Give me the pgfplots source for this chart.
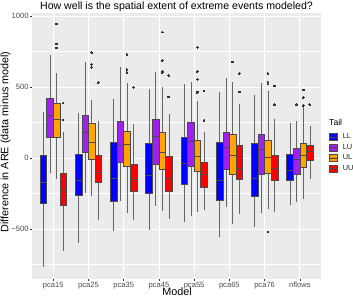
\documentclass[border=0pt]{standalone}
\usepackage{fontspec}
\setmainfont{Liberation Sans}
\usepackage{pgfplots}
\pgfplotsset{compat=1.18}
\definecolor{llc}{HTML}{0000FF}
\definecolor{luc}{HTML}{A020F0}
\definecolor{ulc}{HTML}{FFA500}
\definecolor{uuc}{HTML}{FF0000}
\definecolor{panelbg}{HTML}{EBEBEB}
\definecolor{boxborder}{HTML}{4A4A4A}
\definecolor{whiskcol}{HTML}{666666}
\definecolor{ticklab}{HTML}{4D4D4D}
\definecolor{tickcol}{HTML}{333333}
% #1 centre, #2 colour, #3 lw, #4 lq, #5 med, #6 uq, #7 uw
\newcommand{\bx}[7]{%
  \pgfmathsetmacro{\xa}{#1-0.09375}%
  \pgfmathsetmacro{\xb}{#1+0.09375}%
  \edef\doplots{%
  \noexpand\addplot[whiskcol, line width=0.5pt, forget plot] coordinates {(#1,#3) (#1,#4)};
  \noexpand\addplot[whiskcol, line width=0.5pt, forget plot] coordinates {(#1,#6) (#1,#7)};
  \noexpand\addplot[fill=#2, draw=boxborder, line width=0.5pt, forget plot]
     coordinates {(\xa,#4) (\xb,#4) (\xb,#6) (\xa,#6) (\xa,#4)} -- cycle;
  \noexpand\addplot[boxborder, line width=0.95pt, forget plot] coordinates {(\xa,#5) (\xb,#5)};
  }\doplots}
\begin{document}
\begin{tikzpicture}
\path[use as bounding box] (0pt,0pt) rectangle (353pt,299pt);
\begin{axis}[
  at={(32pt,20pt)}, anchor=south west,
  scale only axis, width=289pt, height=266pt,
  xmin=0.4, xmax=8.6, ymin=-852, ymax=1021,
  xtick={1,2,3,4,5,6,7,8},
  xticklabels={pca15,pca25,pca35,pca45,pca55,pca65,pca76,nflows},
  ytick={-500,0,500,1000},
  yticklabels={−500,0,500,1000},
  minor ytick={-750,-250,250,750},
  grid=both,
  major grid style={white, line width=0.75pt},
  minor grid style={white, line width=0.4pt},
  axis background/.style={fill=panelbg},
  axis line style={draw=none},
  tick align=outside,
  major tick length=2pt, minor tick length=0pt,
  tick style={tickcol, line width=0.4pt},
  xtick pos=left, ytick pos=left,
  ticklabel style={font=\fontsize{7.6}{8}\selectfont, text=ticklab},
  xticklabel style={inner sep=1pt},
  yticklabel style={inner sep=1.2pt},
  legend style={at={(axis description cs:1.0277,0.549)}, anchor=north west,
    draw=none, fill=none, inner sep=0pt, row sep=3.0pt,
    font=\fontsize{7.4}{8}\selectfont,
    nodes={inner sep=0pt, text=black!85}},
  legend cell align=left,
  legend image code/.code={%
    \filldraw[#1, draw=boxborder, line width=0.5pt] (0pt,-3.5pt) rectangle (7.2pt,3.5pt);
    \draw[boxborder, line width=0.75pt] (0pt,0pt)--(7.2pt,0pt);
    \path (13pt,0pt);},
]
% pca15
\bx{0.71875}{llc}{-768}{-317}{-169}{20}{324}
\bx{0.90625}{luc}{-106}{148}{298}{422}{725}
\bx{1.09375}{ulc}{-148}{148}{268}{387}{599}
\bx{1.28125}{uuc}{-655}{-331}{-232}{-106}{183}
% pca25
\bx{1.71875}{llc}{-599}{-261}{-155}{28}{317}
\bx{1.90625}{luc}{-244}{42}{183}{303}{678}
\bx{2.09375}{ulc}{-268}{-7}{108}{242}{408}
\bx{2.28125}{uuc}{-437}{-171}{-101}{19}{258}
% pca35
\bx{2.71875}{llc}{-512}{-303}{-143}{110}{413}
\bx{2.90625}{luc}{-303}{-28}{89}{256}{643}
\bx{3.09375}{ulc}{-385}{-56}{96}{190}{526}
\bx{3.28125}{uuc}{-437}{-237}{-150}{-42}{242}
% pca45
\bx{3.71875}{llc}{-507}{-249}{-124}{101}{486}
\bx{3.90625}{luc}{-338}{-47}{150}{275}{608}
\bx{4.09375}{ulc}{-371}{-77}{40}{181}{502}
\bx{4.28125}{uuc}{-427}{-237}{-141}{9}{308}
% pca55
\bx{4.71875}{llc}{-448}{-188}{-38}{148}{519}
\bx{4.90625}{luc}{-408}{-59}{113}{253}{535}
\bx{5.09375}{ulc}{-380}{-96}{12}{122}{399}
\bx{5.28125}{uuc}{-366}{-206}{-117}{-31}{181}
% pca65
\bx{5.71875}{llc}{-559}{-296}{-157}{113}{462}
\bx{5.90625}{luc}{-343}{-82}{75}{181}{566}
\bx{6.09375}{ulc}{-467}{-113}{16}{169}{538}
\bx{6.28125}{uuc}{-397}{-150}{-75}{89}{380}
% pca76
\bx{6.71875}{llc}{-488}{-272}{-143}{106}{441}
\bx{6.90625}{luc}{-385}{-115}{61}{167}{526}
\bx{7.09375}{ulc}{-361}{-108}{5}{127}{474}
\bx{7.28125}{uuc}{-382}{-157}{-75}{19}{275}
% nflows
\bx{7.71875}{llc}{-333}{-160}{-87}{26}{244}
\bx{7.90625}{luc}{-312}{-113}{-12}{70}{263}
\bx{8.09375}{ulc}{-289}{-66}{19}{106}{357}
\bx{8.28125}{uuc}{-150}{-16}{45}{89}{228}
% outliers
\addplot[only marks, forget plot, mark=*, mark size=0.9pt,
  mark options={fill=black!80, draw=black!80, line width=0pt}] coordinates {
  (1.09375,944) (1.09375,803) (1.09375,775)
  (1.28125,387) (1.28125,268)
  (2.09375,742) (2.09375,660) (2.09375,639)
  (2.28125,530)
  (3.09375,730) (3.09375,624) (3.09375,601)
  (3.28125,498)
  (4.09375,887) (4.09375,688) (4.09375,610) (4.09375,603)
  (4.28125,582) (4.28125,430)
  (5.09375,779) (5.09375,608) (5.09375,554) (5.09375,465) (5.09375,460)
  (5.28125,472) (5.28125,265)
  (6.09375,676)
  (6.28125,594) (6.28125,465)
  (7.09375,594) (7.09375,535) (7.09375,521) (7.09375,-521)
  (7.28125,507) (7.28125,375)
  (7.90625,375)
  (8.09375,479) (8.09375,427) (8.09375,371)
  (8.28125,375)
};
\addlegendimage{fill=llc}\addlegendentry{LL}
\addlegendimage{fill=luc}\addlegendentry{LU}
\addlegendimage{fill=ulc}\addlegendentry{UL}
\addlegendimage{fill=uuc}\addlegendentry{UU}
\end{axis}
\node[anchor=base, font=\fontsize{10.6}{12}\selectfont, inner sep=0pt] at (176.5pt,289pt) {How well is the spatial extent of extreme events modeled?};
\node[anchor=base, font=\fontsize{10.8}{12}\selectfont, inner sep=0pt] at (177pt,3pt) {Model};
\node[anchor=base, rotate=90, font=\fontsize{10.8}{12}\selectfont, inner sep=0pt] at (8.3pt,157pt) {Difference in ARE (data minus model)};
\node[anchor=base west, font=\fontsize{8.6}{10}\selectfont, inner sep=0pt] at (329pt,173pt) {Tail};
\end{tikzpicture}
\end{document}
